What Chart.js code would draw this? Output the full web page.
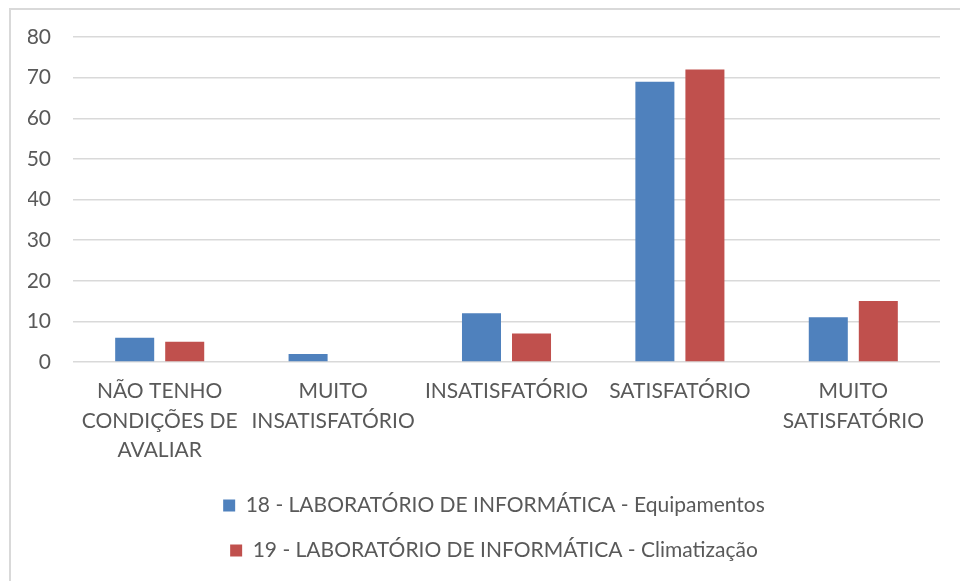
<!DOCTYPE html>
<html>
<head>
<meta charset="utf-8">
<script src="https://cdn.jsdelivr.net/npm/chart.js@4.4.0/dist/chart.umd.min.js"></script>
<style>
  html, body { margin: 0; padding: 0; background: #fff; }
  #wrap { position: relative; width: 960px; height: 581px; }
</style>
</head>
<body>
<div id="wrap"><canvas id="grafLab"></canvas></div>
<script>
const categorias = [
  ['NÃO TENHO', 'CONDIÇÕES DE', 'AVALIAR'],
  ['MUITO', 'INSATISFATÓRIO'],
  'INSATISFATÓRIO',
  'SATISFATÓRIO',
  ['MUITO', 'SATISFATÓRIO']
]
const equipamentos = [6, 2, 12, 69, 11]
const climatizacao = [5, 0, 7, 72, 15]

const cinza = '#595959'
Chart.defaults.font.family = 'Lato'

// moldura cinza em volta do gráfico (como no Excel)
const moldura = {
  id: 'moldura',
  afterLayout(chart) {
    // legenda um pouco deslocada para a direita, como no original
    chart.legend.left += 10
    chart.legend.right += 10
  },
  beforeDraw(chart) {
    const ctx = chart.ctx
    ctx.save()
    ctx.fillStyle = '#fff'
    ctx.fillRect(0, 0, chart.width, chart.height)
    ctx.strokeStyle = '#d9d9d9'
    ctx.lineWidth = 2
    ctx.strokeRect(10, 9, 1000, 1000)
    ctx.restore()
  }
}

const ctxLab = document.getElementById('grafLab')

new Chart(ctxLab, {
  type: 'bar',
  data: {
    labels: categorias,
    datasets: [{
      label: '18 - LABORATÓRIO DE INFORMÁTICA - Equipamentos',
      data: equipamentos,
      backgroundColor: '#4F81BD',
      categoryPercentage: 0.577,
      barPercentage: 0.78
    }, {
      label: '19 - LABORATÓRIO DE INFORMÁTICA - Climatização',
      data: climatizacao,
      backgroundColor: '#C0504D',
      categoryPercentage: 0.577,
      barPercentage: 0.78
    }]
  },
  plugins: [moldura],
  options: {
    responsive: true,
    maintainAspectRatio: false,
    animation: false,
    layout: {
      padding: { left: 28, right: 20, top: 37, bottom: 10 }
    },
    plugins: {
      legend: {
        position: 'bottom',
        labels: {
          color: cinza,
          boxWidth: 12,
          boxHeight: 12,
          padding: 24,
          font: { size: 21 }
        }
      },
      tooltip: { enabled: false }
    },
    scales: {
      x: {
        grid: { display: false },
        border: { display: false },
        ticks: {
          color: cinza,
          padding: 7,
          maxRotation: 0,
          autoSkip: false,
          font: { size: 21, lineHeight: 1.4 }
        },
        afterFit(scale) { scale.height = 109 }
      },
      y: {
        min: 0,
        max: 80,
        ticks: {
          stepSize: 10,
          color: cinza,
          padding: 22,
          font: { size: 21 }
        },
        grid: {
          color: '#d9d9d9',
          lineWidth: 1.5,
          drawTicks: false
        },
        border: { display: false },
        afterFit(scale) { scale.width = 45 }
      }
    }
  }
})
</script>
</body>
</html>
